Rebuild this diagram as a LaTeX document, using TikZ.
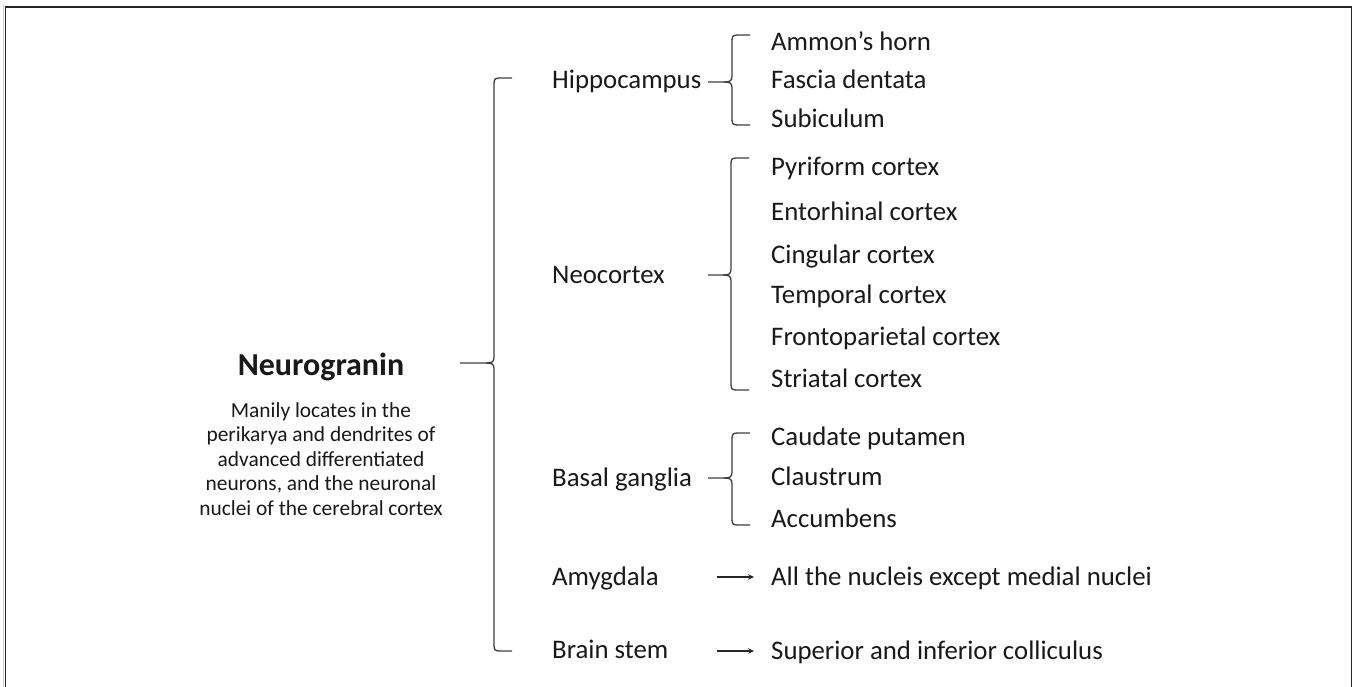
\documentclass[tikz,border=0pt]{standalone}
\usepackage{fontspec}
\setmainfont{Carlito}
\usetikzlibrary{arrows.meta}
\tikzset{
  item/.style={anchor=base west, inner sep=0pt, text=black!90, font=\fontsize{26.8}{30}\selectfont},
  brc/.style={draw=black!75, line width=1.3pt},
  arr/.style={draw=black!85, line width=1.2pt, -{Stealth[length=6pt,width=5.5pt]}},
}
\newcommand{\mybrace}[5]{% x, ytop, ybot, ytip, xtip ; ends extend 18
  \draw[brc] (#1+18,#2) -- (#1+6,#2) .. controls (#1+1,#2) and (#1,#2+1) .. (#1,#2+6)
     -- (#1,#4-6) .. controls (#1,#4-1) and (#1-2,#4) .. (#1-8,#4) -- (#5,#4);
  \draw[brc] (#1-8,#4) .. controls (#1-2,#4) and (#1,#4+1) .. (#1,#4+6)
     -- (#1,#3-6) .. controls (#1,#3-1) and (#1+1,#3) .. (#1+6,#3) -- (#1+18,#3);
}
\begin{document}
\begin{tikzpicture}[x=1pt,y=-1pt]
\useasboundingbox (0,0) rectangle (1354,687);
\fill[white] (0,0) rectangle (1354,687);
% frame
\draw[black!20, line width=1pt] (3.5,700) -- (3.5,5.5);
\draw[black!85, line width=1.6pt] (5.5,700) -- (5.5,7) -- (1351.5,7) -- (1351.5,700);

% left title
\node[anchor=base, inner sep=0pt, font=\bfseries\fontsize{32}{36}\selectfont, text=black!90] (ng) at (321,375) {Neurogranin};
\node[anchor=north, inner sep=0pt, align=center, font=\fontsize{21.4}{24.5}\selectfont, text=black!90] (desc) at (321,402)
  {Manily locates in the\\perikarya and dendrites of\\advanced differentiated\\neurons, and the neuronal\\nuclei of the cerebral cortex};

% middle column
\node[item] (hip) at (552,89) {Hippocampus};
\node[item] (neo) at (552,283) {Neocortex};
\node[item] (bas) at (552,486) {Basal ganglia};
\node[item] (amy) at (552,585) {Amygdala};
\node[item] (bst) at (552,658) {Brain stem};

% right column
\node[item] (ah) at (771,51) {Ammon’s horn};
\node[item] (fd) at (771,89) {Fascia dentata};
\node[item] (sub) at (771,128) {Subiculum};
\node[item] (pyr) at (771,176) {Pyriform cortex};
\node[item] (ent) at (771,220) {Entorhinal cortex};
\node[item] (cin) at (771,263) {Cingular cortex};
\node[item] (tem) at (771,303) {Temporal cortex};
\node[item] (fro) at (771,345) {Frontoparietal cortex};
\node[item] (str) at (771,387) {Striatal cortex};
\node[item] (cau) at (771,445) {Caudate putamen};
\node[item] (cla) at (771,485) {Claustrum};
\node[item] (acc) at (771,527) {Accumbens};
\node[item] (alln) at (771,585) {All the nucleis except medial nuclei};
\node[item] (sup) at (771,659) {Superior and inferior colliculus};

% braces
\mybrace{494}{78}{651}{363}{460}
\mybrace{732}{35}{125}{82}{708}
\mybrace{731}{158}{390}{275}{708}
\mybrace{732}{433}{525}{478}{708}

% arrows
\coordinate (a1s) at (717,577);
\coordinate (a1e) at (754,577);
\coordinate (a2s) at (717,651);
\coordinate (a2e) at (754,651);
\draw[arr] (a1s) -- (a1e);
\draw[arr] (a2s) -- (a2e);
\end{tikzpicture}
\end{document}
